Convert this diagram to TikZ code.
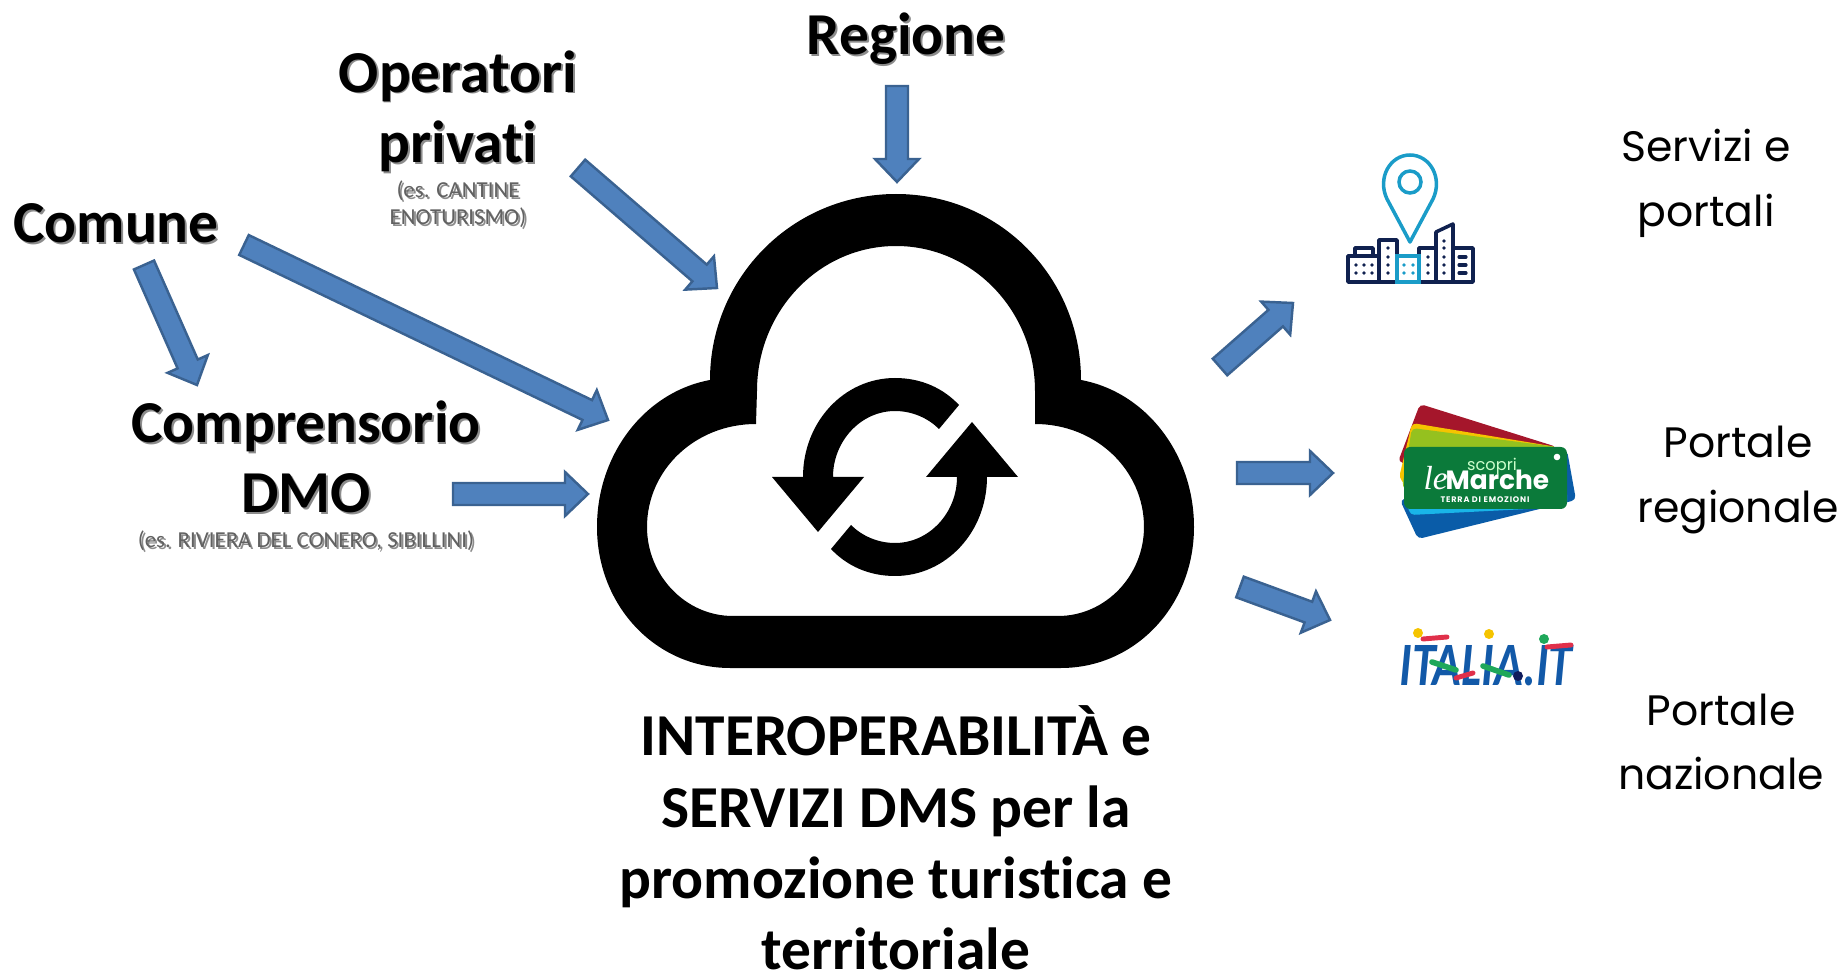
\documentclass[tikz,border=0pt]{standalone}
\usepackage{fontspec}
\setmainfont{Carlito}[Ligatures=CommonOff]
\newfontfamily\gothicfont{Poppins}
\newfontfamily\serifit{Liberation Serif}
\usetikzlibrary{calc}
\definecolor{flowblue}{HTML}{4F81BD}
\definecolor{flowedge}{HTML}{3A6291}
\definecolor{pincyan}{HTML}{1A9CC8}
\definecolor{citynavy}{HTML}{10214F}
\definecolor{italiablue}{HTML}{1259A8}
\definecolor{cardred}{HTML}{A5162B}
\definecolor{cardblue}{HTML}{0A5CA8}
\definecolor{cardyellow}{HTML}{F5C400}
\definecolor{cardlime}{HTML}{95C11F}
\definecolor{cardcyan}{HTML}{19B5E8}
\definecolor{cardgreen}{HTML}{0B7A3A}
\definecolor{dabgreen}{HTML}{1FA85A}
\definecolor{dabred}{HTML}{E0304A}
\definecolor{dabnavy}{HTML}{101C5C}
\newcommand{\shadowed}[1]{\leavevmode\rlap{\hspace{0.55pt}\raisebox{-0.55pt}{\color{black!45}#1}}#1}
\newcommand{\flowarrow}[2]{
	\coordinate (neck) at ($(#2)!0.23cm!(#1)$);
	\draw[flowarrow] ($(#1)!0.11cm!90:(#2)$) -- ($(neck)!0.11cm!90:(#2)$) -- ($(neck)!0.22cm!90:(#2)$) -- (#2)
		-- ($(neck)!0.22cm!-90:(#2)$) -- ($(neck)!0.11cm!-90:(#2)$) -- ($(#1)!0.11cm!-90:(#2)$) -- cycle;
}
\tikzset{
	flowarrow/.style={fill=flowblue,draw=flowedge,line width=0.7pt,line join=miter},
	actor/.style={align=center,inner sep=0pt,font=\fontsize{16.9}{20}\selectfont\bfseries},
	note/.style={align=center,inner sep=0pt,text=black!62,font=\fontsize{6.5}{7.6}\selectfont},
	caption/.style={align=center,inner sep=0pt,font=\fontsize{16.9}{20.3}\selectfont\bfseries},
	service/.style={align=center,inner sep=0pt,font=\gothicfont\fontsize{12.1}{18.4}\selectfont},
	citywall/.style={draw=citynavy,line width=1pt,line join=round},
}
\begin{document}
\begin{tikzpicture}[x=0.01cm,y=-0.01cm]
	\useasboundingbox (0,0) rectangle (1841,973);
	% cloud
	\fill[even odd rule] (730,668) -- (1061,668)
		.. controls (1135,668) and (1194,606) .. (1194,527)
		.. controls (1194,454) and (1146,392) .. (1081,380)
		.. controls (1081,277) and (999,194) .. (896,194)
		.. controls (793,194) and (710,277) .. (710,380)
		.. controls (645,392) and (597,454) .. (597,527)
		.. controls (597,606) and (656,668) .. (730,668) -- cycle
		(733,616) -- (1058,616)
		.. controls (1106,616) and (1144,575) .. (1144,527)
		.. controls (1144,470) and (1096,424) .. (1035,424)
		-- (1035,391)
		.. controls (1035,311) and (973,246) .. (896,246)
		.. controls (819,246) and (757,311) .. (757,391)
		-- (756,424)
		.. controls (695,424) and (647,470) .. (647,527)
		.. controls (647,575) and (685,616) .. (733,616) -- cycle;
	\foreach \turn in {0,180} {
		\fill[rotate around={\turn:(895,477)}] (803,477)
			.. controls (803,422) and (844,378) .. (895,378)
			.. controls (921,378) and (943,388) .. (959,405) -- (939,429)
			.. controls (928,418) and (912,411) .. (895,411)
			.. controls (861,411) and (833,441) .. (833,477)
			-- (864,477) -- (818,532) -- (772,477) -- cycle;
	}
	% texts
	\node[actor] (regione) at (906,40) {\shadowed{Regione}};
	\node[actor] (operatori) at (458,112) {\shadowed{Operatori}\\\shadowed{privati}};
	\node[note] (operatorinote) at (458,205) {\shadowed{(es. CANTINE}\\\shadowed{ENOTURISMO)}};
	\node[actor] (comune) at (116,224) {\shadowed{Comune}};
	\node[actor] (comprensorio) at (306,458) {\shadowed{Comprensorio}\\\shadowed{DMO}};
	\node[note] (comprensorionote) at (306,542) {\shadowed{(es. RIVIERA DEL CONERO, SIBILLINI)}};
	\node[caption] (dms) at (896,838) {INTEROPERABILITÀ e\\SERVIZI DMS per la\\promozione turistica e\\territoriale};
	\node[service] (servizi) at (1706,183) {Servizi e\\portali};
	\node[service] (regionale) at (1738,480) {Portale\\regionale};
	\node[service] (nazionale) at (1721,742) {Portale\\nazionale};
	% arrows
	\coordinate (regionetail) at (897,86);
	\coordinate (regionetip) at (897,182);
	\coordinate (operatoritail) at (578,168);
	\coordinate (operatoritip) at (717,288);
	\coordinate (comunetail) at (244,245);
	\coordinate (comunetip) at (608,420);
	\coordinate (dmotail) at (144,265);
	\coordinate (dmotip) at (197,385);
	\coordinate (cloudtail) at (453,494);
	\coordinate (cloudtip) at (588,494);
	\coordinate (cittatail) at (1220,367);
	\coordinate (cittatip) at (1293,303);
	\coordinate (marchetail) at (1237,473);
	\coordinate (marchetip) at (1333,473);
	\coordinate (italiatail) at (1240,587);
	\coordinate (italiatip) at (1330,620);
	\foreach \from/\to in {regionetail/regionetip,operatoritail/operatoritip,comunetail/comunetip,dmotail/dmotip,cloudtail/cloudtip,cittatail/cittatip,marchetail/marchetip,italiatail/italiatip} {
		\flowarrow{\from}{\to}
	}
	% city icon
	\draw[draw=pincyan,line width=1pt,line join=round] (1410,242) -- (1387,199)
		.. controls (1377,178) and (1390,155) .. (1410,155)
		.. controls (1430,155) and (1443,178) .. (1433,199) -- cycle;
	\draw[draw=pincyan,line width=1pt] (1410,182) circle [radius=11];
	\draw[citywall] (1348,256) rectangle (1379,282);
	\draw[citywall] (1355,256) rectangle (1373,248);
	\draw[citywall] (1379,282) rectangle (1397,240);
	\draw[citywall] (1419,282) rectangle (1436,248);
	\draw[citywall] (1436,282) -- (1436,232) -- (1453,224) -- (1453,282) -- cycle;
	\draw[citywall] (1453,282) rectangle (1473,248);
	\draw[draw=pincyan,line width=1pt] (1397,256) rectangle (1419,282);
	\foreach \xdot/\ydot in {1356/265,1364/265,1372/265,1356/273,1364/273,1372/273,1388/248,1388/257,1388/265,1388/273,1428/257,1428/265,1428/273,1444/241,1444/248,1444/257,1444/265,1444/273} {
		\fill[citynavy] (\xdot,\ydot) circle [radius=1.8];
	}
	\foreach \xdot/\ydot in {1404/265,1413/265,1404/273,1413/273} {
		\fill[pincyan] (\xdot,\ydot) circle [radius=1.8];
	}
	\foreach \ydot in {257,265,273} {
		\draw[citynavy,line width=0.9pt,line cap=round] (1459,\ydot) -- (1466,\ydot);
	}
	% le Marche
	\fill[cardred,rounded corners=1.3pt] (1420,404) -- (1557,447) -- (1500,480) -- (1398,462) -- cycle;
	\fill[cardblue,rounded corners=1.3pt] (1418,539) -- (1576,500) -- (1567,450) -- (1400,500) -- cycle;
	\fill[cardyellow,rounded corners=1.3pt] (1412,423) -- (1557,447) -- (1420,500) -- (1399,478) -- cycle;
	\fill[cardlime,rounded corners=1.3pt] (1412,428) -- (1557,447) -- (1420,500) -- (1402,487) -- cycle;
	\fill[cardcyan,rounded corners=1.3pt] (1404,490) -- (1567,490) -- (1567,507) -- (1410,515) -- cycle;
	\fill[cardgreen,rounded corners=1.8pt] (1404,447) rectangle (1567,509);
	\fill[white] (1557,457) circle [radius=3.3];
	\node[inner sep=0pt,text=white!80!green,font=\gothicfont\fontsize{4.6}{5}\selectfont] (scopri) at (1492,466) {scopri};
	\node[inner sep=0pt,text=white,anchor=base west,font=\serifit\itshape\fontsize{9.5}{9.5}\selectfont] (le) at (1423,490) {le};
	\node[inner sep=0pt,text=white,anchor=base west,font=\gothicfont\bfseries\fontsize{7.5}{7.5}\selectfont] (marche) at (1445,490) {Marche};
	\node[inner sep=0pt,text=white,font=\gothicfont\bfseries\addfontfeature{LetterSpace=10}\fontsize{2.3}{2.3}\selectfont] (terra) at (1485,500) {TERRA DI EMOZIONI};
	% italia.it
	\node[inner sep=0pt,text=italiablue,yscale=1.3,transform shape,font=\bfseries\itshape\fontsize{13.5}{13.5}\selectfont] (italia) at (1486,666) {ITALIA.IT};
	\fill[cardyellow] (1418,633) circle [radius=5];
	\fill[cardyellow] (1489,634) circle [radius=5];
	\fill[dabgreen] (1544,639) circle [radius=5];
	\fill[dabnavy] (1518,676) circle [radius=5];
	\foreach \xa/\ya/\xb/\yb in {1423/639/1447/637,1547/647/1571/645,1456/678/1473/673} {
		\draw[dabred,line width=1.4pt,line cap=round] (\xa,\ya) -- (\xb,\yb);
	}
	\foreach \xa/\ya/\xb/\yb in {1432/662/1456/670,1483/666/1509/675} {
		\draw[dabgreen,line width=1.6pt,line cap=round] (\xa,\ya) -- (\xb,\yb);
	}
\end{tikzpicture}
\end{document}
